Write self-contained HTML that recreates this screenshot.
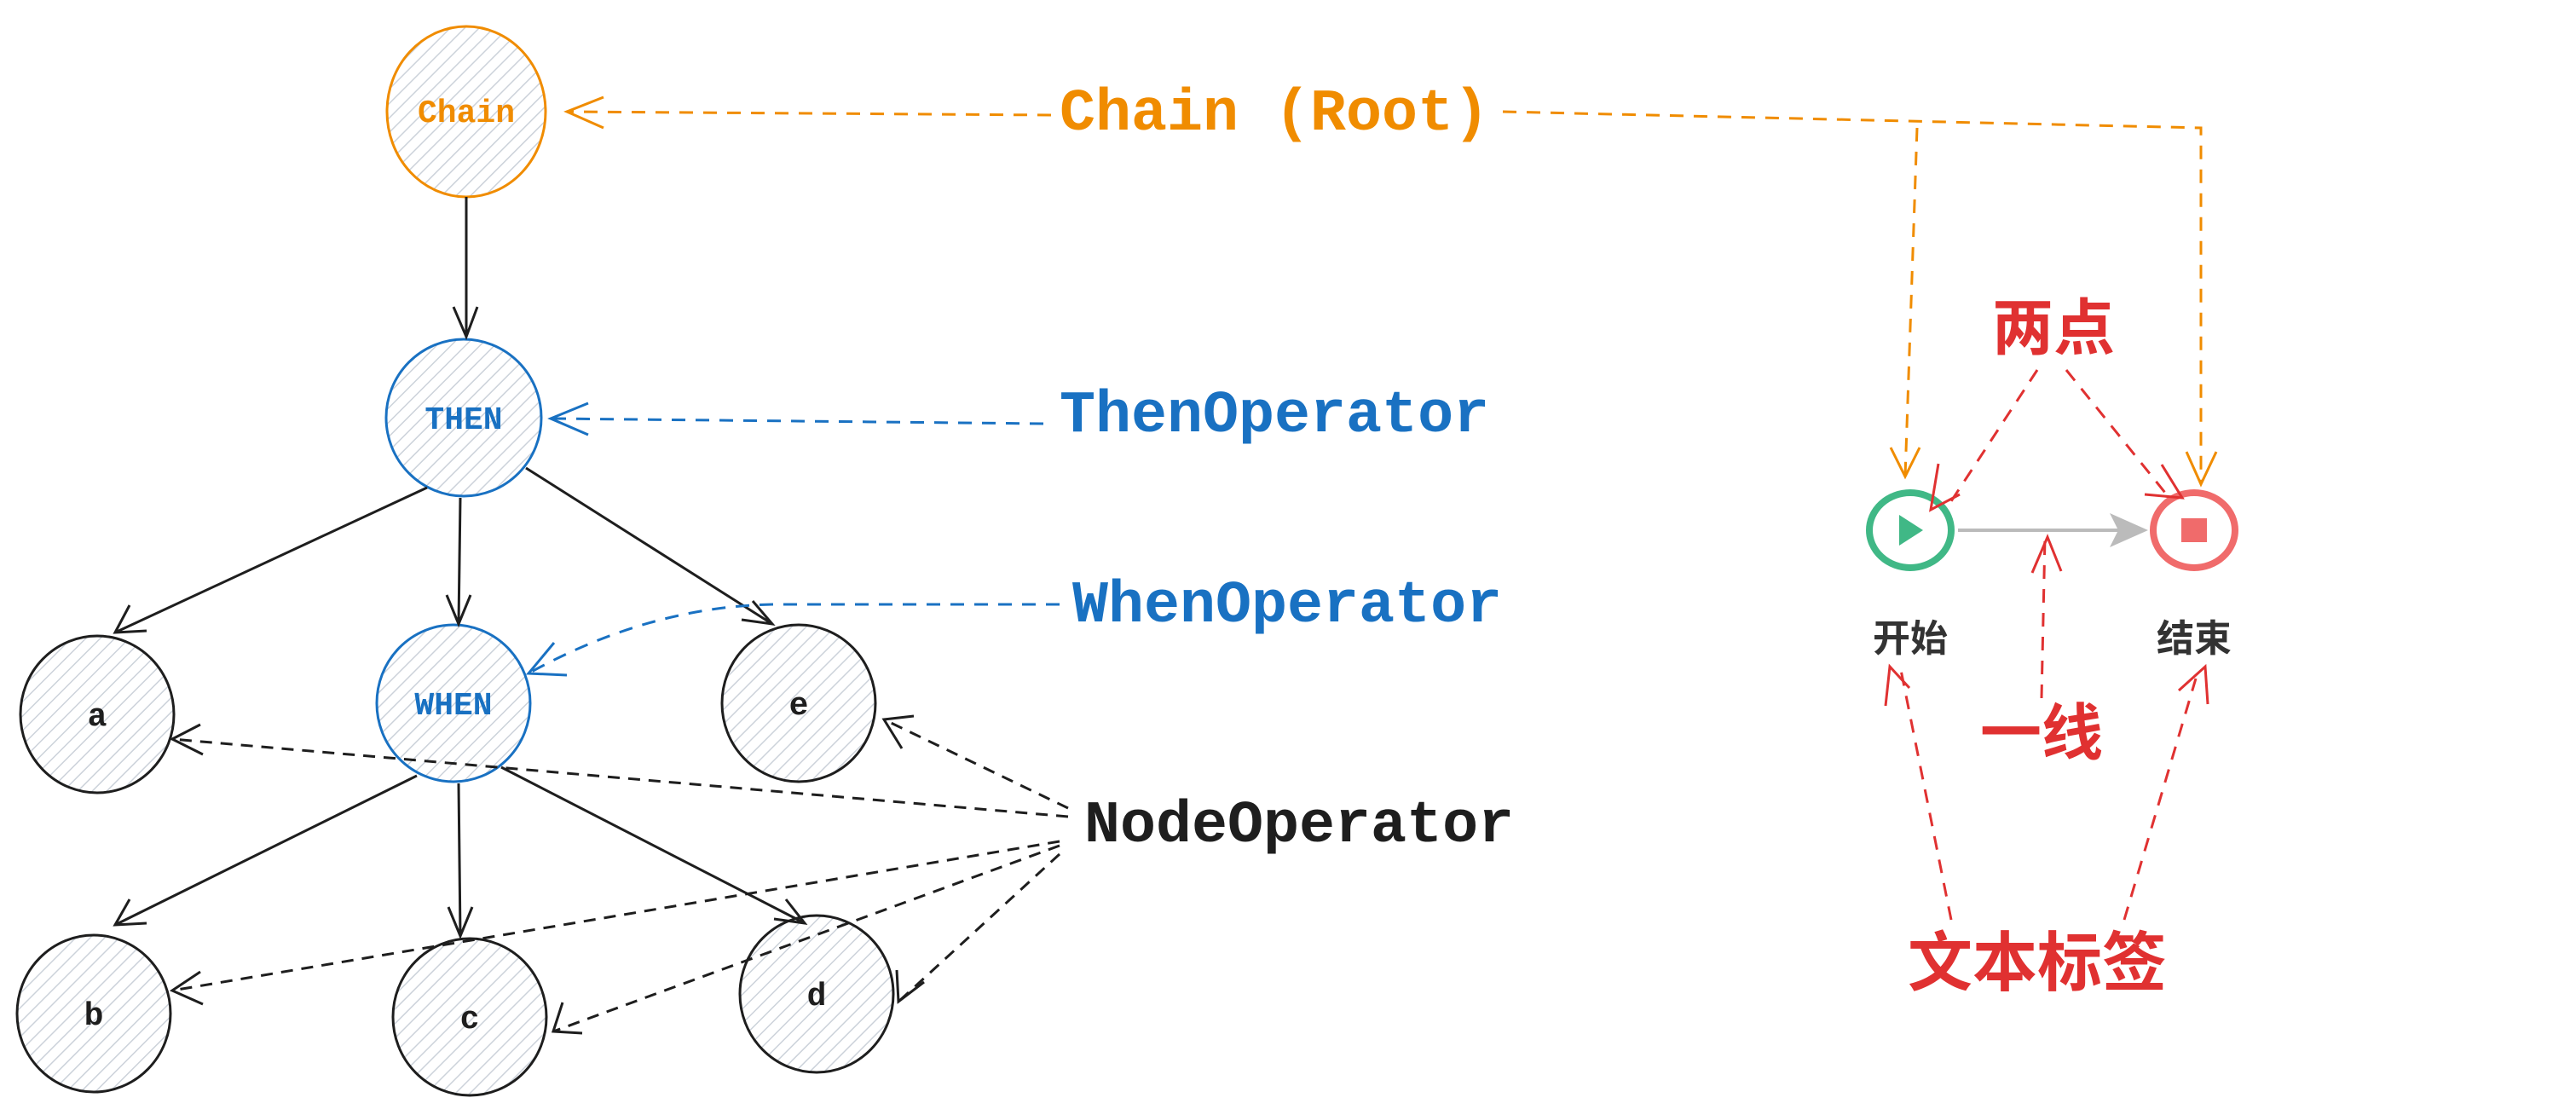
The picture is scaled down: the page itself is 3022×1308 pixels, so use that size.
<!DOCTYPE html>
<html><head><meta charset="utf-8"><style>
html,body{margin:0;padding:0;background:#fff;}
svg{display:block;}
.m{font-family:"Liberation Mono","DejaVu Sans Mono",monospace;font-weight:bold;}
.c{font-family:"Liberation Sans","Noto Sans CJK SC",sans-serif;font-weight:bold;}
</style></head><body>
<svg width="3022" height="1308" viewBox="0 0 3022 1308" xmlns="http://www.w3.org/2000/svg">
<defs>
<pattern id="h" width="12" height="12" patternUnits="userSpaceOnUse" patternTransform="rotate(45)">
<line x1="0" y1="0" x2="0" y2="12" stroke="#ccd2da" stroke-width="3"/>
</pattern>
</defs>
<g stroke-width="3" fill="url(#h)">
<ellipse cx="547" cy="131" rx="93" ry="100" stroke="#f08c00"/>
<ellipse cx="544" cy="490" rx="91" ry="92" stroke="#1971c2"/>
<ellipse cx="532" cy="825" rx="90" ry="92" stroke="#1971c2"/>
<ellipse cx="114" cy="838" rx="90" ry="92" stroke="#1e1e1e"/>
<ellipse cx="937" cy="825" rx="90" ry="92" stroke="#1e1e1e"/>
<ellipse cx="110" cy="1189" rx="90" ry="92" stroke="#1e1e1e"/>
<ellipse cx="551" cy="1193" rx="90" ry="92" stroke="#1e1e1e"/>
<ellipse cx="958" cy="1166" rx="90" ry="92" stroke="#1e1e1e"/>
</g>
<g class="m" font-size="38" text-anchor="middle">
<text x="547" y="143" fill="#f08c00">Chain</text>
<text x="544" y="503" fill="#1971c2">THEN</text>
<text x="532" y="838" fill="#1971c2">WHEN</text>
<text x="114" y="851" fill="#1e1e1e">a</text>
<text x="937" y="838" fill="#1e1e1e">e</text>
<text x="110" y="1202" fill="#1e1e1e">b</text>
<text x="551" y="1206" fill="#1e1e1e">c</text>
<text x="958" y="1179" fill="#1e1e1e">d</text>
</g>
<g class="m" font-size="70">
<text x="1243" y="152" fill="#f08c00">Chain (Root)</text>
<text x="1243" y="506" fill="#1971c2">ThenOperator</text>
<text x="1258" y="729" fill="#1971c2">WhenOperator</text>
<text x="1272" y="987" fill="#1e1e1e">NodeOperator</text>
</g>
<!-- solid black arrows -->
<g stroke="#1e1e1e" stroke-width="3" fill="none">
<path d="M547 231 L547 395 M532 360 L547 395 L560 360"/>
<path d="M501 572 L135 742 M152 710 L135 742 L172 740"/>
<path d="M540 584 L538 732 M524 698 L538 732 L552 698"/>
<path d="M617 549 L906 732 M883 705 L906 732 L870 727"/>
<path d="M489 910 L135 1085 M152 1055 L135 1085 L172 1083"/>
<path d="M538 919 L540 1098 M526 1064 L540 1098 L554 1064"/>
<path d="M588 900 L944 1083 M922 1055 L944 1083 L908 1078"/>
</g>
<!-- dashed black -->
<g stroke="#1e1e1e" stroke-width="3" fill="none" stroke-dasharray="14 10">
<path d="M1253 958 L202 867"/>
<path d="M1253 948 L1037 844"/>
<path d="M1243 987 L202 1162"/>
<path d="M1243 992 L649 1210"/>
<path d="M1243 1002 L1054 1175"/>
</g>
<g stroke="#1e1e1e" stroke-width="3" fill="none">
<path d="M235 850 L202 867 L238 885"/>
<path d="M1072 840 L1037 844 L1058 878"/>
<path d="M235 1140 L202 1162 L238 1178"/>
<path d="M660 1176 L649 1210 L683 1212"/>
<path d="M1052 1138 L1054 1175 L1084 1152"/>
</g>
<!-- orange dashed -->
<g stroke="#f08c00" stroke-width="3" fill="none">
<path d="M1233 135 L665 131 M1763 131 L2582 150 L2582 568 M2249 150 L2235 559" stroke-dasharray="16 12"/>
<path d="M708 114 L665 131 L708 150"/>
<path d="M2218 525 L2235 559 L2252 525"/>
<path d="M2565 530 L2582 568 L2600 530"/>
</g>
<!-- blue dashed -->
<g stroke="#1971c2" stroke-width="3" fill="none">
<path d="M1224 497 L646 491 M1243 709 L906 709 Q760 712 620 790" stroke-dasharray="16 12"/>
<path d="M690 473 L646 491 L690 510"/>
<path d="M650 754 L620 790 L665 792"/>
</g>
<!-- right diagram -->
<line x1="2297" y1="622" x2="2495" y2="622" stroke="#bbb" stroke-width="4"/>
<path d="M2475 602 L2520 622 L2475 642 L2485 622 Z" fill="#bbb"/>
<ellipse cx="2241" cy="622" rx="48" ry="44" fill="none" stroke="#40b886" stroke-width="8"/>
<path d="M2228 604 L2256 622 L2228 640 Z" fill="#40b886"/>
<ellipse cx="2574" cy="622" rx="48" ry="44" fill="none" stroke="#f06b6b" stroke-width="8"/>
<rect x="2559" y="608" width="30" height="28" fill="#f06b6b"/>
<g class="c" font-size="44" fill="#333" text-anchor="middle">
<text x="2241" y="764">开始</text>
<text x="2574" y="764">结束</text>
</g>
<g class="c" fill="#e03131" text-anchor="middle">
<text x="2409" y="410" font-size="72">两点</text>
<text x="2395" y="885" font-size="72">一线</text>
<text x="2390" y="1156" font-size="76">文本标签</text>
</g>
<g stroke="#e03131" stroke-width="3" fill="none">
<path d="M2390 434 L2289 588 M2424 434 L2540 578 M2395 819 L2399 630 M2289 1079 L2230 786 M2492 1079 L2576 796" stroke-dasharray="16 12"/>
<path d="M2274 544 L2265 598 L2299 580"/>
<path d="M2536 545 L2560 584 L2516 580"/>
<path d="M2384 672 L2402 630 L2418 670"/>
<path d="M2212 828 L2217 782 L2240 807"/>
<path d="M2556 810 L2587 782 L2590 826"/>
</g>
</svg>
</body></html>
